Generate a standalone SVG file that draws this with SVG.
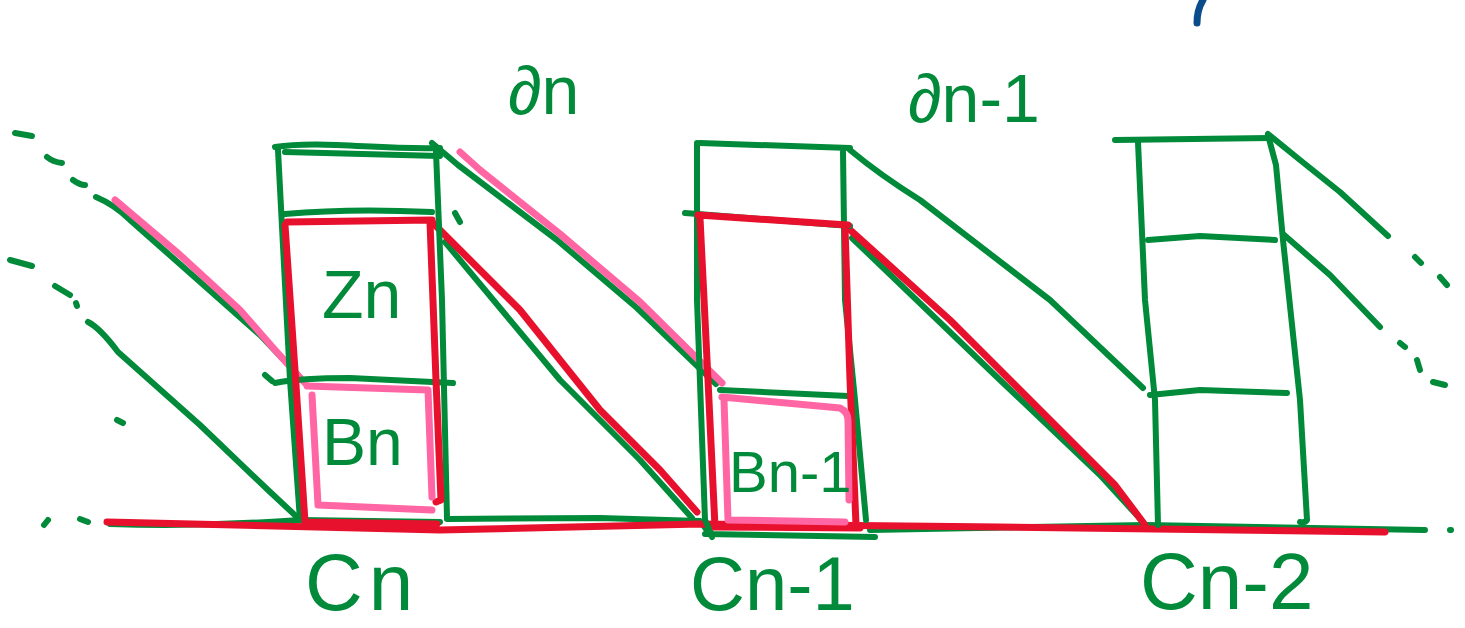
<svg xmlns="http://www.w3.org/2000/svg" width="1465" height="628" viewBox="0 0 1465 628">
<style>
.g{fill:none;stroke:#008a3a;stroke-width:6;stroke-linecap:round;stroke-linejoin:round}
.r{fill:none;stroke:#e8112d;stroke-width:7;stroke-linecap:round;stroke-linejoin:round}
.p{fill:none;stroke:#ff66a3;stroke-width:7;stroke-linecap:round;stroke-linejoin:round}
.b{fill:none;stroke:#0a4b8c;stroke-width:7;stroke-linecap:round}
.t{fill:#008a3a;font-family:"Liberation Sans","DejaVu Sans",sans-serif}
</style>
<rect width="1465" height="628" fill="#ffffff"/>
<g id="blue-mark"><path class="b" d="M1203,0 Q1197,10 1197,23"/></g>
<g id="connectors">
<path class="g" d="M15,133 L32,136 M47,157 Q53,162 62,163 M73,180 Q80,185 85,185 M10,260 L32,266 M55,286 L70,295 M76,303 L77,306 M117,420 L123,423 M265,375 L272,381 M455,213 L460,222 M44,525 L48,520 M80,519 L88,522"/>
<path class="g" d="M96,197 Q115,205 130,220 L190,273 L260,335 L298,375"/>
<path class="g" d="M88,322 Q100,328 118,352 L200,425 L268,490 L298,518"/>
<path class="g" d="M432,143 L458,165 L557,240 L637,308 L716,384"/>
<path class="g" d="M445,242 L560,380 L640,460 L692,518"/>
<path class="g" d="M850,150 Q880,175 920,200 L1050,300 L1143,388"/>
<path class="g" d="M852,238 L1000,380 L1100,475 L1143,522"/>
<path class="g" d="M1268,134 L1300,160 L1340,192 L1388,236"/>
<path class="g" d="M1283,234 L1330,275 L1380,327"/>
<path class="g" d="M1415,257 L1421,263 M1440,277 L1447,285 M1400,343 L1405,347 M1417,360 L1420,370 M1433,382 L1445,385 M1450,530 L1451,530"/>
<path class="g" d="M110,524 Q200,527 300,520 L440,522 M447,519 L600,518 L700,521 L712,537 M705,534 L875,537 M870,530 L1145,525 L1425,530"/>
<path class="r" d="M107,522 L440,530 L700,524 L1000,527 L1385,532"/>
<path class="r" d="M432,222 L520,310 L600,410 L660,470 L697,512"/>
<path class="r" d="M848,228 L950,320 L1050,420 L1115,485 L1145,525"/>
<path class="p" d="M115,200 L180,255 L240,310 L275,350 L305,383"/>
<path class="p" d="M460,152 L480,170 L560,234 L640,302 L722,383"/>
</g>
<g id="col-n">
<path class="g" d="M275,147 C320,140 380,150 440,148 M285,152 L440,156"/>
<path class="g" d="M278,150 L290,380 L300,520"/>
<path class="g" d="M436,152 L442,300 L447,518"/>
<path class="g" d="M285,214 Q350,208 432,212"/>
<path class="g" d="M275,383 Q300,378 350,378 L453,383"/>
<path class="r" d="M287,222 L432,220 M285,225 L295,370 L305,522 M430,222 L436,380 L441,500 L436,502 M305,522 L437,524"/>
<path class="p" d="M307,386 L428,390 L432,497 M312,395 L318,505 L432,510"/>
</g>
<g id="col-n1">
<path class="g" d="M697,143 L697,300 L705,520 L712,535"/>
<path class="g" d="M700,143 L850,148"/>
<path class="g" d="M843,152 L845,300 L855,400 L866,520"/>
<path class="g" d="M685,213 L850,226"/>
<path class="g" d="M720,390 L848,396"/>
<path class="r" d="M698,215 L848,225 M700,218 L708,380 L715,527 M845,228 L850,380 L856,525 M715,527 L860,528"/>
<path class="p" d="M722,397 L840,408 Q848,412 848,420 L849,500 M724,400 L728,520 L845,522"/>
</g>
<g id="col-n2">
<path class="g" d="M1115,140 L1270,138"/>
<path class="g" d="M1138,142 L1145,300 L1155,400 L1158,525"/>
<path class="g" d="M1268,135 L1276,165 L1283,240 L1300,400 L1307,520 Q1305,523 1300,522"/>
<path class="g" d="M1148,240 L1200,236 L1275,240"/>
<path class="g" d="M1150,395 L1200,390 L1287,393"/>
</g>
<g id="labels">
<text class="t" x="508" y="114" font-size="68">∂n</text>
<text class="t" x="908" y="122" font-size="68">∂n-1</text>
<text class="t" x="322" y="318" font-size="68">Zn</text>
<text class="t" x="322" y="465" font-size="66">Bn</text>
<text class="t" x="729" y="492" font-size="58">Bn-1</text>
<text class="t" x="305" y="610" font-size="80" letter-spacing="6">Cn</text>
<text class="t" x="690" y="610" font-size="76">Cn-1</text>
<text class="t" x="1140" y="609" font-size="80">Cn-2</text>
</g>
</svg>
